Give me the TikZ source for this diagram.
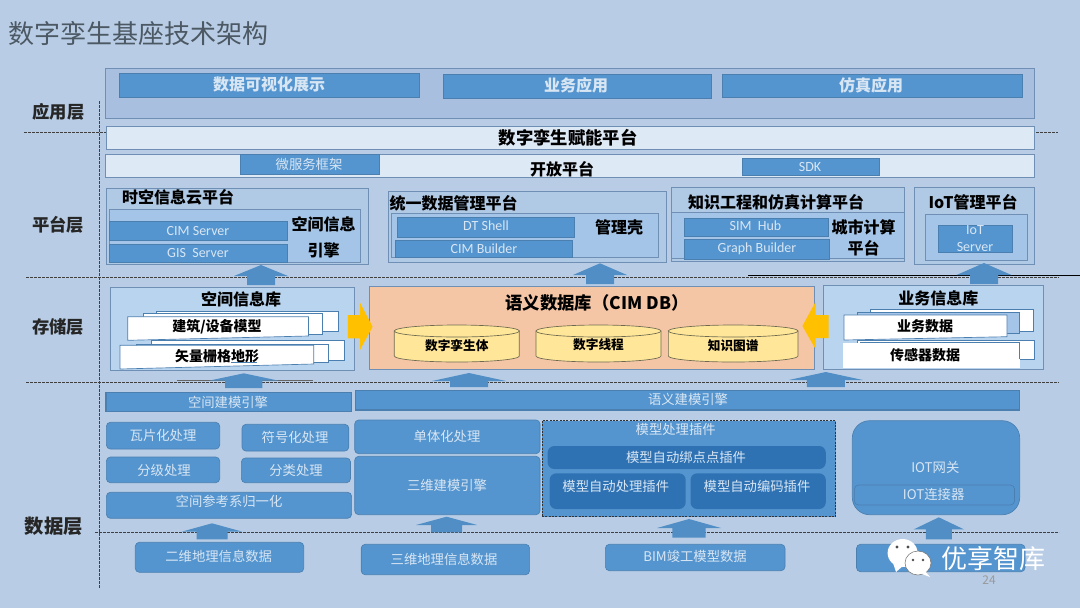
\documentclass[tikz,border=0pt]{standalone}
\usepackage{fontspec}
\setmainfont{Noto Sans CJK SC}
\newfontfamily\latinlab{Carlito}
\definecolor{bgc}{HTML}{B8CDE5}
\definecolor{topc}{HTML}{A9BFDF}
\definecolor{mainb}{HTML}{5595CF}
\definecolor{edgeb}{HTML}{4A7FB0}
\definecolor{edgeg}{HTML}{6F8FB5}
\definecolor{pale}{HTML}{DEE9F6}
\definecolor{panel}{HTML}{B0C9E5}
\definecolor{inner}{HTML}{A4C5E7}
\definecolor{store}{HTML}{B9D4EE}
\definecolor{deep}{HTML}{2E72B4}
\definecolor{peach}{HTML}{F5C6A6}
\definecolor{cyl}{HTML}{FFE699}
\definecolor{cyle}{HTML}{6E6A50}
\definecolor{gold}{HTML}{FFC000}
\definecolor{lighttxt}{HTML}{D8E6F4}
\definecolor{titlec}{HTML}{4C5863}
\tikzset{
  x=0.75pt,y=-0.75pt,
  boxbase/.style={inner sep=0pt,outer sep=0pt},
  blue/.style={boxbase,fill=mainb,draw=edgeb,line width=0.5pt},
  bluer/.style={blue,rounded corners=3pt},
  bigr/.style={blue,rounded corners=13pt},
  deepr/.style={boxbase,fill=deep,draw=none,rounded corners=5pt},
  panelbox/.style={boxbase,fill=panel,draw=edgeg,line width=0.6pt},
  innerbox/.style={boxbase,fill=inner,draw=edgeg,line width=0.6pt},
  storebox/.style={boxbase,fill=store,draw=edgeg,line width=0.6pt},
  palebox/.style={boxbase,fill=pale,draw=edgeg,line width=0.6pt},
  sheet/.style={boxbase,fill=white,draw=edgeb,line width=0.5pt},
  backsheet/.style={boxbase,fill=inner,draw=edgeb,line width=0.5pt},
  txt/.style={inner sep=0pt,outer sep=0pt,align=center},
  lab/.style={txt,text=lighttxt,font=\fontsize{10pt}{12pt}\selectfont},
  latlab/.style={txt,text=lighttxt,font=\latinlab\fontsize{10.5pt}{12.5pt}\selectfont},
  labb/.style={txt,text=lighttxt,font=\fontsize{12pt}{14pt}\selectfont\bfseries},
  head/.style={txt,text=black,font=\fontsize{12pt}{14pt}\selectfont\bfseries},
  headl/.style={txt,text=black,font=\fontsize{13pt}{15pt}\selectfont\bfseries},
  sheetlab/.style={txt,text=black,font=\fontsize{10.5pt}{12pt}\selectfont\bfseries},
  cyllab/.style={txt,text=black,font=\fontsize{9.5pt}{12pt}\selectfont\bfseries},
  layer/.style={txt,text=black!85,font=\fontsize{13pt}{15pt}\selectfont\bfseries},
  sep/.style={black!75,line width=0.5pt,dash pattern=on 2pt off 1pt},
  blockarrow/.style={fill=mainb!95!black,draw=none},
  goldarrow/.style={fill=gold,draw=none},
}
\newcommand{\bx}[6]{%
  \pgfmathsetlengthmacro{\bw}{(#5-#3)*0.75pt}%
  \pgfmathsetlengthmacro{\bh}{(#6-#4)*0.75pt}%
  \node[#1,minimum width=\bw,minimum height=\bh] (#2) at ({(#3+#5)/2},{(#4+#6)/2}) {};}
\newcommand{\tx}[5]{\node[#1] (#2) at (#3,#4) {#5};}
\newcommand{\arw}[7]{\path[blockarrow] (#2,#3) -- (#2+#6,#4) -- (#2+#7,#4) -- (#2+#7,#5) -- (#2-#7,#5) -- (#2-#7,#4) -- (#2-#6,#4) -- cycle;}
\newcommand{\cylinder}[6]{%
  \path[fill=cyl,draw=cyle,line width=0.5pt] (#2,#3+6) -- (#2,#4-6) arc[start angle=180,end angle=0,x radius={(#5-#2)/2},y radius=6] -- (#5,#3+6) -- cycle;
  \path[fill=cyl,draw=cyle,line width=0.5pt] ({(#2+#5)/2},#3+6) ellipse[x radius={(#5-#2)/2},y radius=6];
  \tx{cyllab}{#1}{{(#2+#5)/2}}{#6}{\cylname}}
\begin{document}
\begin{tikzpicture}
\useasboundingbox (0,0) rectangle (1080,608);
\fill[bgc] (0,0) rectangle (1080,608);
% title
\tx{txt,text=titlec,font=\fontsize{19.5pt}{22pt}\selectfont}{title}{138}{33}{数字孪生基座技术架构}
% layer lines
\draw[sep] (99,101) -- (99,588);
\draw[sep] (24,132) -- (1058,132);
\draw[sep] (26,277) -- (1059,277);
\draw[sep] (26,382) -- (1059,382);
\draw[sep] (95,532.6) -- (1059,532.6);
\draw[black,line width=1pt] (748,275.3) -- (1080,275.3);
\draw[black!60,line width=0.4pt] (177,380.7) -- (313,380.7);
% layer labels
\tx{layer}{l1}{58.5}{112}{应用层}
\tx{layer}{l2}{58}{224.7}{平台层}
\tx{layer}{l3}{58}{327}{存储层}
\tx{txt,text=black!85,font=\fontsize{14.5pt}{16pt}\selectfont\bfseries}{l4}{53.7}{526.7}{数据层}
% application layer
\bx{boxbase,fill=topc,draw=edgeg,line width=0.6pt}{app}{105.4}{68.5}{1034}{118}
\bx{blue}{a1}{119}{73.7}{419.4}{97.7}\tx{labb}{a1t}{269}{84.7}{数据可视化展示}
\bx{blue}{a2}{443}{74}{711}{98}\tx{labb}{a2t}{576}{85}{业务应用}
\bx{blue}{a3}{722}{74}{1022.4}{97}\tx{labb}{a3t}{871}{85}{仿真应用}
% platform bars
\bx{palebox}{enable}{106}{126}{1034.5}{149}\tx{txt,text=black,font=\fontsize{13pt}{15pt}\selectfont\bfseries}{enablet}{568}{138}{数字孪生赋能平台}
\bx{palebox}{open}{105}{154}{1034}{177}\tx{head}{opent}{562}{169}{开放平台}
\bx{blue}{ms}{240}{154}{379}{174}\tx{lab}{mst}{309}{164.5}{微服务框架}
\bx{blue}{sdk}{742.5}{158}{879.5}{175}\tx{latlab}{sdkt}{810}{167}{SDK}
% spatio-temporal cloud
\bx{panelbox}{p1}{106.4}{188.3}{368.8}{264.3}\tx{head}{p1t}{178}{197}{时空信息云平台}
\bx{innerbox}{p1i}{109.5}{209}{360.5}{262}
\bx{blue}{cims}{109.5}{221}{287}{240.7}\tx{latlab}{cimst}{198}{231}{CIM Server}
\bx{blue}{giss}{109.5}{244}{287}{262}\tx{latlab}{gisst}{198}{252.5}{GIS\ \ Server}
\tx{head}{p1a}{323.7}{224}{空间信息}
\tx{head}{p1b}{323.7}{250.7}{引擎}
% data management
\bx{panelbox}{p2}{388.4}{191.3}{666.4}{262.3}\tx{head}{p2t}{453.7}{203}{统一数据管理平台}
\bx{innerbox}{p2i}{391}{213}{658}{257}
\bx{blue}{dts}{397.4}{217}{574}{237}\tx{latlab}{dtst}{486}{226}{DT Shell}
\bx{blue}{cimb}{395.7}{240}{572.7}{257}\tx{latlab}{cimbt}{484}{248.5}{CIM Builder}
\tx{head}{p2a}{619}{227}{管理壳}
% knowledge engineering
\bx{panelbox}{p3}{671.5}{187.3}{904.7}{261.3}\tx{head}{p3t}{776}{202}{知识工程和仿真计算平台}
\bx{innerbox}{p3i}{671.5}{212.7}{904.7}{258.3}
\bx{blue}{simh}{684}{218}{828}{236}\tx{latlab}{simht}{755.5}{226}{SIM\ \ Hub}
\bx{blue}{grb}{684.6}{239}{829}{259}\tx{latlab}{grbt}{757}{248.5}{Graph Builder}
\tx{head}{p3a}{863.7}{227}{城市计算}
\tx{head}{p3b}{863.7}{248}{平台}
% IoT platform
\bx{panelbox}{p4}{914.3}{187.3}{1034}{264}\tx{head}{p4t}{973}{202}{IoT管理平台}
\bx{innerbox}{p4i}{925.3}{214}{1027.6}{260.3}
\bx{blue}{iots}{938.4}{225.7}{1012}{252}\tx{latlab}{iotst}{975}{238.5}{IoT\\Server}
% arrows platform
\arw{u1}{261}{265}{276}{285}{27}{14}
\arw{u2}{600}{263.3}{275}{284}{27}{14}
\arw{u3}{984}{263}{275}{284}{27.5}{14}
% spatial store
\bx{storebox}{s1}{110}{287.3}{354.7}{370.3}\tx{head}{s1t}{241}{299}{空间信息库}
\bx{sheet}{s1c}{156.7}{311}{338}{331.7}
\bx{sheet}{s1b}{143}{313}{322}{334}
\path[sheet] (127.8,316.7) -- (308.5,316.7) -- (308.5,336) -- (127.8,340.3) -- cycle;
\tx{sheetlab}{s1at}{217}{327}{建筑/设备模型}
\bx{sheet}{s2c}{151.5}{340.7}{344.4}{360}
\bx{sheet}{s2b}{136.7}{344}{328}{362.7}
\path[sheet] (120,345.3) -- (313.7,345.3) -- (313.7,364) -- (120,369) -- cycle;
\tx{sheetlab}{s2at}{217}{355.7}{矢量栅格地形}
\draw[edgeb,line width=0.5pt] (231,362.7) -- (257,362.7);
% semantic DB
\bx{boxbase,fill=peach,draw=edgeg,line width=0.6pt}{sem}{369}{286.7}{814.8}{369.3}
\tx{headl}{semt}{597}{303}{语义数据库（CIM DB）}
\def\cylname{数字孪生体}\cylinder{c1}{394.3}{325}{362}{519.3}{346}
\def\cylname{数字线程}\cylinder{c2}{536}{325}{362}{661}{345}
\def\cylname{知识图谱}\cylinder{c3}{668.4}{325}{362}{798}{346}
% business store
\bx{storebox}{s3}{823}{285.7}{1043.4}{369.3}\tx{head}{s3t}{938.4}{298}{业务信息库}
\bx{sheet}{s3c}{870.6}{309.3}{1033.5}{331.3}
\bx{backsheet}{s3b}{857.5}{312}{1019}{333}
\path[sheet] (844,315) -- (1007,315) -- (1007,336.7) -- (844,340) -- cycle;
\tx{sheetlab}{s3at}{925}{326}{业务数据}
\bx{sheet}{s4c}{857.5}{340}{1034}{359.3}
\bx{boxbase,fill=white}{s4a}{843}{342.7}{1019.7}{368}\tx{sheetlab}{s4at}{925}{355}{传感器数据}
\draw[edgeb,line width=0.5pt] (860,342.7) -- (1019.7,342.7) -- (1019.7,359);
% gold arrows
\path[goldarrow] (372.6,326.7) -- (360,302.7) -- (360,315) -- (347.8,315) -- (347.8,338.3) -- (360,338.3) -- (360,350) -- cycle;
\path[goldarrow] (802.4,326) -- (815.5,302) -- (815.5,315) -- (828.6,315) -- (828.6,338) -- (815.5,338) -- (815.5,349) -- cycle;
% arrows storage
\arw{v1}{243.8}{373.3}{380.7}{388}{35}{18.6}
\arw{v2}{469}{373}{381}{387}{37}{19}
\arw{v3}{825.8}{372}{380}{387}{37}{19}
% data layer
\bx{blue,line width=0.9pt}{e1}{106}{392.3}{351.6}{411.7}\tx{lab}{e1t}{228}{402}{空间建模引擎}
\bx{blue,line width=0.9pt}{e2}{355.4}{390.7}{1019.7}{410}\tx{lab}{e2t}{688}{399}{语义建模引擎}
\bx{bluer}{d1}{106.4}{422.3}{219.7}{449}\tx{lab}{d1t}{163}{435}{瓦片化处理}
\bx{bluer}{d2}{242}{424.3}{348.8}{451}\tx{lab}{d2t}{295}{437}{符号化处理}
\bx{bluer}{d3}{106.4}{457}{219.7}{482.7}\tx{lab}{d3t}{164}{470}{分级处理}
\bx{bluer}{d4}{241.4}{458}{350.5}{482.7}\tx{lab}{d4t}{296}{470}{分类处理}
\bx{bluer}{d5}{106.4}{492.3}{351.6}{518.3}\tx{lab}{d5t}{229}{501}{空间参考系归一化}
\bx{bluer}{d6}{354.7}{420}{540}{453.7}\tx{lab}{d6t}{447}{436}{单体化处理}
\bx{bluer}{d7}{354.7}{456.3}{540}{514.7}\tx{lab}{d7t}{447}{485}{三维建模引擎}
\bx{boxbase,fill=mainb,draw=black!80,line width=0.5pt,dash pattern=on 1.5pt off 1pt}{plug}{542}{420.7}{835.5}{516.7}\tx{lab}{plugt}{675.7}{429}{模型处理插件}
\bx{deepr}{pg1}{547.6}{446}{825.8}{469}\tx{lab}{pg1t}{686}{457}{模型自动绑点点插件}
\bx{deepr}{pg2}{549.6}{473.3}{685.7}{509}\tx{lab}{pg2t}{615.8}{486.7}{模型自动处理插件}
\bx{deepr}{pg3}{690.5}{473.3}{825.8}{509}\tx{lab}{pg3t}{757}{486.7}{模型自动编码插件}
\bx{bigr}{iotb}{852.3}{420.7}{1019.7}{514.7}\tx{lab}{iotbt}{935.3}{467.3}{IOT网关}
\bx{bluer}{iotc}{854.4}{485}{1014.5}{505}\tx{lab}{iotct}{933.6}{494.5}{IOT连接器}
% arrows bottom
\arw{w1}{212}{523.3}{531.7}{539.3}{30.5}{15.5}
\arw{w2}{446.6}{516.7}{525}{532.3}{30.6}{15.5}
\arw{w3}{689}{519}{528}{537.7}{32}{16.7}
\arw{w4}{938.8}{517.3}{529.3}{539.3}{25}{13}
% sources
\bx{bluer}{b1}{135.3}{542.3}{303.7}{572.3}\tx{lab}{b1t}{218.7}{556.7}{二维地理信息数据}
\bx{bluer}{b2}{361.2}{544.3}{529.6}{574.7}\tx{lab}{b2t}{444}{559}{三维地理信息数据}
\bx{bluer}{b3}{605.4}{544.3}{785}{570.7}\tx{lab}{b3t}{695}{556.7}{BIM竣工模型数据}
\bx{bluer}{b4}{856.5}{544.3}{1025}{571.7}
% page number and watermark
\tx{txt,text=black!40,font=\fontsize{9pt}{10pt}\selectfont}{pn}{989}{580}{24}
\fill[white] (902.6,553) ellipse[x radius=15,y radius=14];
\fill[white] (893,563) -- (896,572) -- (904,565) -- cycle;
\fill[black!70] (897,547) circle[radius=1.6] (908,547) circle[radius=1.6];
\path[fill=white,draw=black!55,line width=0.4pt] (918,563) ellipse[x radius=13,y radius=12];
\fill[white] (925,571) -- (930,577) -- (922,574) -- cycle;
\fill[black!70] (913,560) circle[radius=1.4] (923,560) circle[radius=1.4];
\tx{txt,text=white,font=\fontsize{19.5pt}{22pt}\selectfont}{wm}{993}{559}{优享智库}
\end{tikzpicture}
\end{document}
